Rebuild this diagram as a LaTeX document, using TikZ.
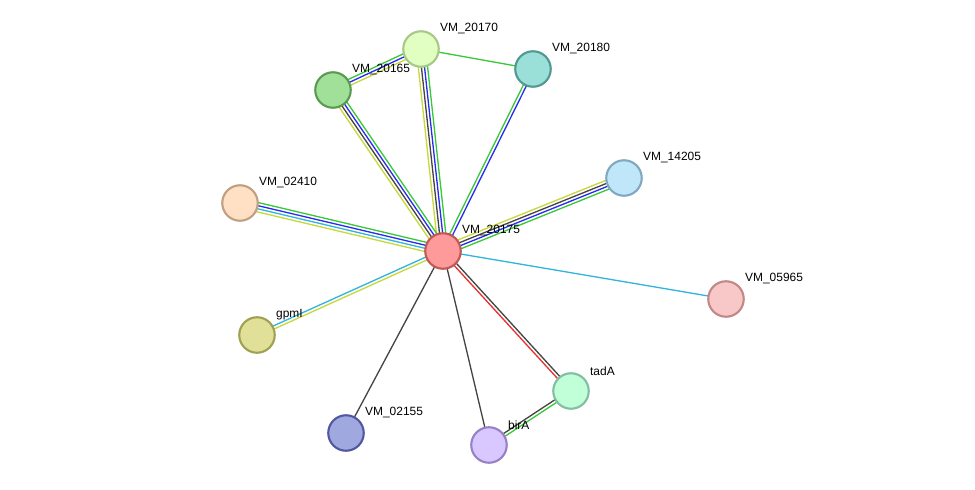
\documentclass[tikz,border=0pt]{standalone}
\usepackage{fontspec}
\setmainfont{Liberation Sans}
\usepackage{tikz}
\usetikzlibrary{calc, backgrounds}

\definecolor{evTxt}{HTML}{C6D83A}
\definecolor{evCoex}{HTML}{444444}
\definecolor{evCooc}{HTML}{2B2BF0}
\definecolor{evNbr}{HTML}{38C838}
\definecolor{evDb}{HTML}{32B4DC}
\definecolor{evFus}{HTML}{E83030}

\definecolor{f20175}{HTML}{FF9A9A}\definecolor{d20175}{HTML}{C05858}
\definecolor{f20170}{HTML}{E0FFC0}\definecolor{d20170}{HTML}{A8C888}
\definecolor{f20180}{HTML}{9AE0D8}\definecolor{d20180}{HTML}{509890}
\definecolor{f20165}{HTML}{A0E098}\definecolor{d20165}{HTML}{5A9A50}
\definecolor{f14205}{HTML}{C0E6FA}\definecolor{d14205}{HTML}{80A8C0}
\definecolor{f02410}{HTML}{FFE0C4}\definecolor{d02410}{HTML}{C0A080}
\definecolor{f05965}{HTML}{F8C8C8}\definecolor{d05965}{HTML}{C08888}
\definecolor{fgpmI}{HTML}{E0E098}\definecolor{dgpmI}{HTML}{A0A050}
\definecolor{ftadA}{HTML}{C0FFD8}\definecolor{dtadA}{HTML}{80C0A0}
\definecolor{f02155}{HTML}{A0A8E0}\definecolor{d02155}{HTML}{5058A0}
\definecolor{fbirA}{HTML}{D8C8FF}\definecolor{dbirA}{HTML}{9880C8}

% parallel evidence lines between two proteins
\newcommand{\ppiedge}[3]{%
  \foreach \c [count=\k] in {#3} {\xdef\nlines{\k}}
  \foreach \c [count=\k, evaluate=\k as \off using (\k-(\nlines+1)/2)*0.062] in {#3} {
    \draw[ev, \c] ($(#1)!\off cm!90:(#2)$) -- ($(#2)!\off cm!-90:(#1)$);
  }%
}

\begin{document}
\begin{tikzpicture}[
    x=0.02cm, y=-0.02cm,
    prot/.style={
      circle, draw, line width=1.2pt, inner sep=0pt, minimum size=0.71cm
    },
    lbl/.style={
      font=\fontsize{6.8}{8}\selectfont, inner sep=0pt, yshift=0.4cm,
      label distance=0pt
    },
    ev/.style={line width=0.75pt},
  ]
    \useasboundingbox (0,0) rectangle (975,490);

    \node[prot, fill=f20175, draw=d20175] (n20175) at (443,251)
      [label={[lbl]0:VM\_20175}] {};
    \node[prot, fill=f20170, draw=d20170] (n20170) at (421,49)
      [label={[lbl]0:VM\_20170}] {};
    \node[prot, fill=f20180, draw=d20180] (n20180) at (533,69)
      [label={[lbl]0:VM\_20180}] {};
    \node[prot, fill=f20165, draw=d20165] (n20165) at (333,90)
      [label={[lbl]0:VM\_20165}] {};
    \node[prot, fill=f14205, draw=d14205] (n14205) at (624,178)
      [label={[lbl]0:VM\_14205}] {};
    \node[prot, fill=f02410, draw=d02410] (n02410) at (240,203)
      [label={[lbl]0:VM\_02410}] {};
    \node[prot, fill=f05965, draw=d05965] (n05965) at (726,299)
      [label={[lbl]0:VM\_05965}] {};
    \node[prot, fill=fgpmI, draw=dgpmI] (ngpmI) at (257,335)
      [label={[lbl]0:gpmI}] {};
    \node[prot, fill=ftadA, draw=dtadA] (ntadA) at (571,391)
      [label={[lbl]0:tadA}] {};
    \node[prot, fill=f02155, draw=d02155] (n02155) at (346,433)
      [label={[lbl]0:VM\_02155}] {};
    \node[prot, fill=fbirA, draw=dbirA] (nbirA) at (489,445)
      [label={[lbl]0:birA}] {};

    \begin{pgfonlayer}{background}
      \ppiedge{n20175}{n20170}{evNbr,evCooc,evCoex,evTxt}
      \ppiedge{n20175}{n20165}{evNbr,evCooc,evCoex,evTxt}
      \ppiedge{n20165}{n20170}{evTxt,evCooc,evNbr}
      \ppiedge{n20170}{n20180}{evNbr}
      \ppiedge{n20175}{n20180}{evCooc,evNbr}
      \ppiedge{n20175}{n14205}{evNbr,evCooc,evCoex,evTxt}
      \ppiedge{n20175}{n02410}{evNbr,evCooc,evDb,evTxt}
      \ppiedge{n20175}{n05965}{evDb}
      \ppiedge{n20175}{ngpmI}{evDb,evTxt}
      \ppiedge{n20175}{n02155}{evCoex}
      \ppiedge{n20175}{nbirA}{evCoex}
      \ppiedge{n20175}{ntadA}{evFus,evCoex}
      \ppiedge{ntadA}{nbirA}{evCoex,evNbr}
    \end{pgfonlayer}
\end{tikzpicture}
\end{document}
